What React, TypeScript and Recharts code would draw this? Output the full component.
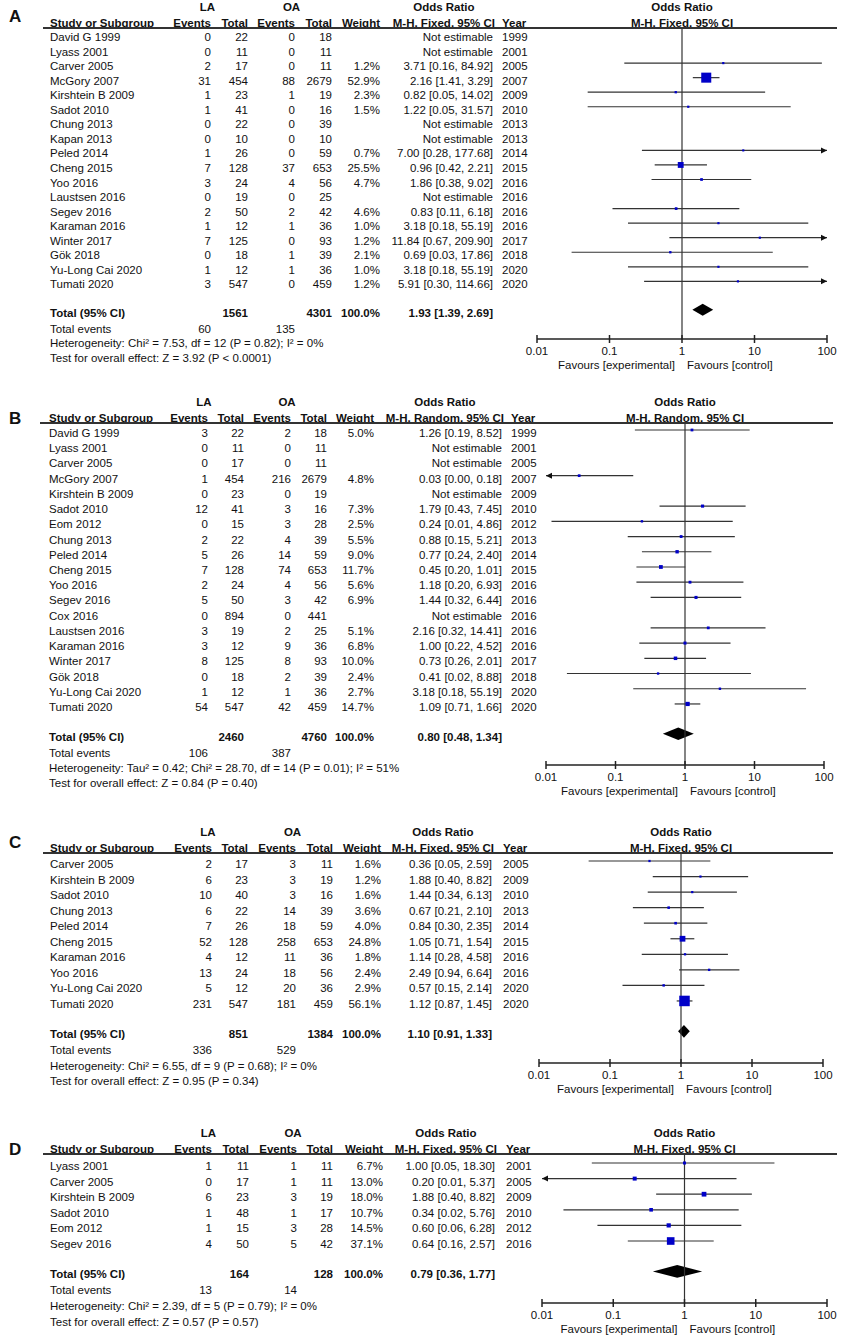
import React from 'react'
import { ComposedChart, Scatter, XAxis, YAxis, ReferenceLine, ReferenceArea } from 'recharts'

const FONT = '"Liberation Sans", Arial, Helvetica, sans-serif'
const W = 841
const H = 1339

const xTicks = [0.01, 0.1, 1, 10, 100]
const xTickLabels = ['0.01', '0.1', '1', '10', '100']

// ---- A: M-H, Fixed
const studiesA = ['David G 1999', 'Lyass 2001', 'Carver 2005', 'McGory 2007', 'Kirshtein B 2009', 'Sadot 2010', 'Chung 2013', 'Kapan 2013', 'Peled 2014', 'Cheng 2015', 'Yoo 2016', 'Laustsen 2016', 'Segev 2016', 'Karaman 2016', 'Winter 2017', 'Gök 2018', 'Yu-Long Cai 2020', 'Tumati 2020']
const laEventsA = [0, 0, 2, 31, 1, 1, 0, 0, 1, 7, 3, 0, 2, 1, 7, 0, 1, 3]
const laTotalA = [22, 11, 17, 454, 23, 41, 22, 10, 26, 128, 24, 19, 50, 12, 125, 18, 12, 547]
const oaEventsA = [0, 0, 0, 88, 1, 0, 0, 0, 0, 37, 4, 0, 2, 1, 0, 1, 1, 0]
const oaTotalA = [18, 11, 11, 2679, 19, 16, 39, 10, 59, 653, 56, 25, 42, 36, 93, 39, 36, 459]
const weightA = [null, null, 1.2, 52.9, 2.3, 1.5, null, null, 0.7, 25.5, 4.7, null, 4.6, 1.0, 1.2, 2.1, 1.0, 1.2]
const orA = [null, null, 3.71, 2.16, 0.82, 1.22, null, null, 7.0, 0.96, 1.86, null, 0.83, 3.18, 11.84, 0.69, 3.18, 5.91]
const loA = [null, null, 0.16, 1.41, 0.05, 0.05, null, null, 0.28, 0.42, 0.38, null, 0.11, 0.18, 0.67, 0.03, 0.18, 0.3]
const hiA = [null, null, 84.92, 3.29, 14.02, 31.57, null, null, 177.68, 2.21, 9.02, null, 6.18, 55.19, 209.9, 17.86, 55.19, 114.66]
const yearsA = [1999, 2001, 2005, 2007, 2009, 2010, 2013, 2013, 2014, 2015, 2016, 2016, 2016, 2016, 2017, 2018, 2020, 2020]
const totalsA = [1561, 4301]
const totalEventsA = [60, 135]
const pooledA = [1.93, 1.39, 2.69]
const hetA = 'Heterogeneity: Chi² = 7.53, df = 12 (P = 0.82); I² = 0%'
const testA = 'Test for overall effect: Z = 3.92 (P < 0.0001)'

// ---- B: M-H, Random
const studiesB = ['David G 1999', 'Lyass 2001', 'Carver 2005', 'McGory 2007', 'Kirshtein B 2009', 'Sadot 2010', 'Eom 2012', 'Chung 2013', 'Peled 2014', 'Cheng 2015', 'Yoo 2016', 'Segev 2016', 'Cox 2016', 'Laustsen 2016', 'Karaman 2016', 'Winter 2017', 'Gök 2018', 'Yu-Long Cai 2020', 'Tumati 2020']
const laEventsB = [3, 0, 0, 1, 0, 12, 0, 2, 5, 7, 2, 5, 0, 3, 3, 8, 0, 1, 54]
const laTotalB = [22, 11, 17, 454, 23, 41, 15, 22, 26, 128, 24, 50, 894, 19, 12, 125, 18, 12, 547]
const oaEventsB = [2, 0, 0, 216, 0, 3, 3, 4, 14, 74, 4, 3, 0, 2, 9, 8, 2, 1, 42]
const oaTotalB = [18, 11, 11, 2679, 19, 16, 28, 39, 59, 653, 56, 42, 441, 25, 36, 93, 39, 36, 459]
const weightB = [5.0, null, null, 4.8, null, 7.3, 2.5, 5.5, 9.0, 11.7, 5.6, 6.9, null, 5.1, 6.8, 10.0, 2.4, 2.7, 14.7]
const orB = [1.26, null, null, 0.03, null, 1.79, 0.24, 0.88, 0.77, 0.45, 1.18, 1.44, null, 2.16, 1.0, 0.73, 0.41, 3.18, 1.09]
const loB = [0.19, null, null, 0.003, null, 0.43, 0.012, 0.15, 0.24, 0.2, 0.2, 0.32, null, 0.32, 0.22, 0.26, 0.02, 0.18, 0.71]
const hiB = [8.52, null, null, 0.18, null, 7.45, 4.86, 5.21, 2.4, 1.01, 6.93, 6.44, null, 14.41, 4.52, 2.01, 8.88, 55.19, 1.66]
const yearsB = [1999, 2001, 2005, 2007, 2009, 2010, 2012, 2013, 2014, 2015, 2016, 2016, 2016, 2016, 2016, 2017, 2018, 2020, 2020]
const totalsB = [2460, 4760]
const totalEventsB = [106, 387]
const pooledB = [0.8, 0.48, 1.34]
const hetB = 'Heterogeneity: Tau² = 0.42; Chi² = 28.70, df = 14 (P = 0.01); I² = 51%'
const testB = 'Test for overall effect: Z = 0.84 (P = 0.40)'

// ---- C: M-H, Fixed
const studiesC = ['Carver 2005', 'Kirshtein B 2009', 'Sadot 2010', 'Chung 2013', 'Peled 2014', 'Cheng 2015', 'Karaman 2016', 'Yoo 2016', 'Yu-Long Cai 2020', 'Tumati 2020']
const laEventsC = [2, 6, 10, 6, 7, 52, 4, 13, 5, 231]
const laTotalC = [17, 23, 40, 22, 26, 128, 12, 24, 12, 547]
const oaEventsC = [3, 3, 3, 14, 18, 258, 11, 18, 20, 181]
const oaTotalC = [11, 19, 16, 39, 59, 653, 36, 56, 36, 459]
const weightC = [1.6, 1.2, 1.6, 3.6, 4.0, 24.8, 1.8, 2.4, 2.9, 56.1]
const orC = [0.36, 1.88, 1.44, 0.67, 0.84, 1.05, 1.14, 2.49, 0.57, 1.12]
const loC = [0.05, 0.4, 0.34, 0.21, 0.3, 0.71, 0.28, 0.94, 0.15, 0.87]
const hiC = [2.59, 8.82, 6.13, 2.1, 2.35, 1.54, 4.58, 6.64, 2.14, 1.45]
const yearsC = [2005, 2009, 2010, 2013, 2014, 2015, 2016, 2016, 2020, 2020]
const totalsC = [851, 1384]
const totalEventsC = [336, 529]
const pooledC = [1.1, 0.91, 1.33]
const hetC = 'Heterogeneity: Chi² = 6.55, df = 9 (P = 0.68); I² = 0%'
const testC = 'Test for overall effect: Z = 0.95 (P = 0.34)'

// ---- D: M-H, Fixed
const studiesD = ['Lyass 2001', 'Carver 2005', 'Kirshtein B 2009', 'Sadot 2010', 'Eom 2012', 'Segev 2016']
const laEventsD = [1, 0, 6, 1, 1, 4]
const laTotalD = [11, 17, 23, 48, 15, 50]
const oaEventsD = [1, 1, 3, 1, 3, 5]
const oaTotalD = [11, 11, 19, 17, 28, 42]
const weightD = [6.7, 13.0, 18.0, 10.7, 14.5, 37.1]
const orD = [1.0, 0.2, 1.88, 0.34, 0.6, 0.64]
const loD = [0.05, 0.007, 0.4, 0.02, 0.06, 0.16]
const hiD = [18.3, 5.37, 8.82, 5.76, 6.28, 2.57]
const yearsD = [2001, 2005, 2009, 2010, 2012, 2016]
const totalsD = [164, 128]
const totalEventsD = [13, 14]
const pooledD = [0.79, 0.36, 1.77]
const hetD = 'Heterogeneity: Chi² = 2.39, df = 5 (P = 0.79); I² = 0%'
const testD = 'Test for overall effect: Z = 0.57 (P = 0.57)'

type Panel = {
  method: string
  studies: string[]
  laEvents: number[]
  laTotal: number[]
  oaEvents: number[]
  oaTotal: number[]
  weight: (number | null)[]
  or: (number | null)[]
  lo: (number | null)[]
  hi: (number | null)[]
  years: number[]
  totals: number[]
  totalEvents: number[]
  pooled: number[]
  het: string
  test: string
}

const panels: Panel[] = [
  { method: 'M-H, Fixed, 95% CI', studies: studiesA, laEvents: laEventsA, laTotal: laTotalA, oaEvents: oaEventsA, oaTotal: oaTotalA, weight: weightA, or: orA, lo: loA, hi: hiA, years: yearsA, totals: totalsA, totalEvents: totalEventsA, pooled: pooledA, het: hetA, test: testA },
  { method: 'M-H, Random, 95% CI', studies: studiesB, laEvents: laEventsB, laTotal: laTotalB, oaEvents: oaEventsB, oaTotal: oaTotalB, weight: weightB, or: orB, lo: loB, hi: hiB, years: yearsB, totals: totalsB, totalEvents: totalEventsB, pooled: pooledB, het: hetB, test: testB },
  { method: 'M-H, Fixed, 95% CI', studies: studiesC, laEvents: laEventsC, laTotal: laTotalC, oaEvents: oaEventsC, oaTotal: oaTotalC, weight: weightC, or: orC, lo: loC, hi: hiC, years: yearsC, totals: totalsC, totalEvents: totalEventsC, pooled: pooledC, het: hetC, test: testC },
  { method: 'M-H, Fixed, 95% CI', studies: studiesD, laEvents: laEventsD, laTotal: laTotalD, oaEvents: oaEventsD, oaTotal: oaTotalD, weight: weightD, or: orD, lo: loD, hi: hiD, years: yearsD, totals: totalsD, totalEvents: totalEventsD, pooled: pooledD, het: hetD, test: testD },
]

// page layout of each panel (pixels)
const layouts = [
  { letter: 'A', letterY: 15.5, y0: 38, dy: 14.55, lineY: 28, lineX1: 43, lineX2: 837, axisY: 339, x001: 537, x100: 827, studyX: 50, laE: 211, laT: 248, oaE: 295, oaT: 332, w: 380, orR: 493, yearX: 502 },
  { letter: 'B', letterY: 417.5, y0: 434, dy: 15.22, lineY: 423, lineX1: 40, lineX2: 833, axisY: 765, x001: 546, x100: 824, studyX: 49, laE: 208, laT: 244, oaE: 291, oaT: 327, w: 374, orR: 502, yearX: 511 },
  { letter: 'C', letterY: 841.5, y0: 865, dy: 15.55, lineY: 853, lineX1: 43, lineX2: 833, axisY: 1063, x001: 539, x100: 823, studyX: 50, laE: 212, laT: 248, oaE: 296, oaT: 333, w: 381, orR: 492, yearX: 503 },
  { letter: 'D', letterY: 1148.5, y0: 1167, dy: 15.6, lineY: 1154, lineX1: 43, lineX2: 837, axisY: 1303, x001: 542, x100: 827, studyX: 50, laE: 212, laT: 249, oaE: 297, oaT: 333, w: 383, orR: 495, yearX: 506 },
]

const LINE = '#333'
const BLUE = '#0000c8'

const fmtCI = (o: number, l: number, h: number) => `${o.toFixed(2)} [${l.toFixed(2)}, ${h.toFixed(2)}]`

function T({ x, y, a = 'l', b = false, s = 11.5, children }: { x: number; y: number; a?: string; b?: boolean; s?: number; children: React.ReactNode }) {
  const tx = a === 'l' ? '0' : a === 'r' ? '-100%' : '-50%'
  return (
    <div
      style={{
        position: 'absolute',
        left: x,
        top: y,
        transform: `translate(${tx}, -50%)`,
        whiteSpace: 'nowrap',
        fontWeight: b ? 'bold' : 'normal',
        fontSize: s,
        lineHeight: 1,
      }}
    >
      {children}
    </div>
  )
}

function ForestPanel({ p, L }: { p: Panel; L: (typeof layouts)[number] }) {
  const n = p.studies.length
  const rowY = (i: number) => L.y0 + i * L.dy
  const totalIdx = n + 0.95
  const totalY = rowY(totalIdx)
  const evY = totalY + 16
  const hetY = evY + L.dy
  const testY = hetY + L.dy

  // marks sit ~4px above the text baseline centre
  const markY0 = L.y0 - 4
  const yTop = (L.lineY - markY0) / L.dy
  const yBot = (L.axisY - markY0) / L.dy
  const plotH = L.axisY - L.lineY

  const points = p.or
    .map((o, i) => (o == null ? null : { x: o, y: i, w: p.weight[i] as number, lo: p.lo[i] as number, hi: p.hi[i] as number }))
    .filter((d): d is { x: number; y: number; w: number; lo: number; hi: number } => d != null)

  const [po, pl, ph] = p.pooled
  const frac = (Math.log(po) - Math.log(pl)) / (Math.log(ph) - Math.log(pl))
  const center = (L.x001 + L.x100) / 2

  const renderTick = (t: any) => {
    const v = t.payload.value
    return (
      <g>
        <line x1={t.x} x2={t.x} y1={t.y - 4} y2={t.y + 4} stroke="#222" strokeWidth={1.5} />
        <text x={t.x} y={t.y + 16} textAnchor="middle" fontSize={11.5} fontFamily={FONT} fill="#111">
          {xTickLabels[xTicks.indexOf(v)]}
        </text>
        {v === 1 && (
          <>
            <text x={t.x - 7} y={t.y + 29.5} textAnchor="end" fontSize={11.5} fontFamily={FONT} fill="#111">
              Favours [experimental]
            </text>
            <text x={t.x + 5} y={t.y + 29.5} textAnchor="start" fontSize={11.5} fontFamily={FONT} fill="#111">
              Favours [control]
            </text>
          </>
        )}
      </g>
    )
  }

  return (
    <>
      <T x={9} y={L.letterY} b s={17}>
        {L.letter}
      </T>
      {/* header */}
      <T x={(L.laE + L.laT) / 2 - 22} y={L.lineY - 20} a="c" b>
        LA
      </T>
      <T x={(L.oaE + L.oaT) / 2 - 22} y={L.lineY - 20} a="c" b>
        OA
      </T>
      <div
        style={{
          position: 'absolute',
          right: W - (L.orR + 2),
          top: L.lineY - 20 - 7.75,
          lineHeight: '15.5px',
          fontSize: 11.5,
          fontWeight: 'bold',
          textAlign: 'center',
          whiteSpace: 'nowrap',
        }}
      >
        Odds Ratio
        <br />
        {p.method}
      </div>
      <T x={L.studyX} y={L.lineY - 4.5} b>
        Study or Subgroup
      </T>
      <T x={L.laE} y={L.lineY - 4.5} a="r" b>
        Events
      </T>
      <T x={L.laT} y={L.lineY - 4.5} a="r" b>
        Total
      </T>
      <T x={L.oaE} y={L.lineY - 4.5} a="r" b>
        Events
      </T>
      <T x={L.oaT} y={L.lineY - 4.5} a="r" b>
        Total
      </T>
      <T x={L.w} y={L.lineY - 4.5} a="r" b>
        Weight
      </T>
      <T x={L.yearX} y={L.lineY - 4.5} b>
        Year
      </T>
      <T x={center} y={L.lineY - 20} a="c" b>
        Odds Ratio
      </T>
      <T x={center} y={L.lineY - 4.5} a="c" b>
        {p.method}
      </T>
      <div style={{ position: 'absolute', left: L.lineX1, top: L.lineY - 0.75, width: L.lineX2 - L.lineX1, height: 1.5, background: LINE }} />

      {/* rows */}
      {p.studies.map((s, i) => {
        const y = rowY(i)
        const o = p.or[i]
        return (
          <React.Fragment key={s + i}>
            <T x={L.studyX} y={y}>{s}</T>
            <T x={L.laE} y={y} a="r">{p.laEvents[i]}</T>
            <T x={L.laT} y={y} a="r">{p.laTotal[i]}</T>
            <T x={L.oaE} y={y} a="r">{p.oaEvents[i]}</T>
            <T x={L.oaT} y={y} a="r">{p.oaTotal[i]}</T>
            {p.weight[i] != null && (
              <T x={L.w} y={y} a="r">{(p.weight[i] as number).toFixed(1)}%</T>
            )}
            <T x={L.orR} y={y} a="r">
              {o == null ? 'Not estimable' : fmtCI(o, p.lo[i] as number, p.hi[i] as number)}
            </T>
            <T x={L.yearX} y={y}>{p.years[i]}</T>
          </React.Fragment>
        )
      })}

      {/* totals */}
      <T x={L.studyX} y={totalY} b>Total (95% CI)</T>
      <T x={L.laT} y={totalY} a="r" b>{p.totals[0]}</T>
      <T x={L.oaT} y={totalY} a="r" b>{p.totals[1]}</T>
      <T x={L.w} y={totalY} a="r" b>100.0%</T>
      <T x={L.orR} y={totalY} a="r" b>{fmtCI(po, pl, ph)}</T>
      <T x={L.studyX} y={evY}>Total events</T>
      <T x={L.laE} y={evY} a="r">{p.totalEvents[0]}</T>
      <T x={L.oaE} y={evY} a="r">{p.totalEvents[1]}</T>
      <T x={L.studyX} y={hetY}>{p.het}</T>
      <T x={L.studyX} y={testY}>{p.test}</T>

      {/* forest plot */}
      <div style={{ position: 'absolute', left: 0, top: L.lineY }}>
        <ComposedChart width={W} height={plotH + 40} margin={{ top: 0, right: W - L.x100, bottom: 0, left: L.x001 }}>
          <XAxis
            type="number"
            dataKey="x"
            scale="log"
            domain={[0.01, 100]}
            allowDataOverflow
            ticks={xTicks}
            interval={0}
            tickLine={false}
            tickSize={0}
            tickMargin={0}
            height={40}
            axisLine={{ stroke: '#222', strokeWidth: 1.5 }}
            tick={renderTick}
          />
          <YAxis type="number" dataKey="y" domain={[yTop, yBot]} reversed hide allowDataOverflow />
          <ReferenceLine x={1} stroke={LINE} strokeWidth={1.2} ifOverflow="visible" />
          {points.map((d) => {
            const left = d.lo < 0.01
            const right = d.hi > 100
            const a = Math.max(d.lo, 0.01)
            const b = Math.min(d.hi, 100)
            return (
              <ReferenceLine
                key={'ci' + d.y}
                segment={[
                  { x: a, y: d.y },
                  { x: b, y: d.y },
                ]}
                ifOverflow="visible"
                stroke={LINE}
                strokeWidth={1.2}
                shape={(sp: any) => (
                  <g>
                    <line x1={sp.x1} y1={sp.y1} x2={sp.x2} y2={sp.y2} stroke={LINE} strokeWidth={1.2} />
                    {right && (
                      <polygon points={`${sp.x2},${sp.y2} ${sp.x2 - 6},${sp.y2 - 3} ${sp.x2 - 6},${sp.y2 + 3}`} fill="#111" />
                    )}
                    {left && (
                      <polygon points={`${sp.x1},${sp.y1} ${sp.x1 + 6},${sp.y1 - 3} ${sp.x1 + 6},${sp.y1 + 3}`} fill="#111" />
                    )}
                  </g>
                )}
              />
            )
          })}
          <ReferenceArea
            x1={pl}
            x2={ph}
            y1={totalIdx - 0.41}
            y2={totalIdx + 0.41}
            ifOverflow="visible"
            shape={(r: any) => {
              const cx = r.x + r.width * frac
              const cy = r.y + r.height / 2
              return (
                <polygon
                  points={`${r.x},${cy} ${cx},${r.y} ${r.x + r.width},${cy} ${cx},${r.y + r.height}`}
                  fill="#000"
                />
              )
            }}
          />
          <Scatter
            data={points}
            isAnimationActive={false}
            shape={(sp: any) => {
              const s = 2 + (8.5 * sp.payload.w) / 56
              return <rect x={sp.cx - s / 2} y={sp.cy - s / 2} width={s} height={s} fill={BLUE} />
            }}
          />
        </ComposedChart>
      </div>
    </>
  )
}

export default function App() {
  return (
    <div style={{ position: 'relative', width: W, height: H, background: '#fff', fontFamily: FONT, color: '#111', overflow: 'hidden' }}>
      <style>{'body{margin:0}'}</style>
      {panels.map((p, i) => (
        <ForestPanel key={i} p={p} L={layouts[i]} />
      ))}
    </div>
  )
}
